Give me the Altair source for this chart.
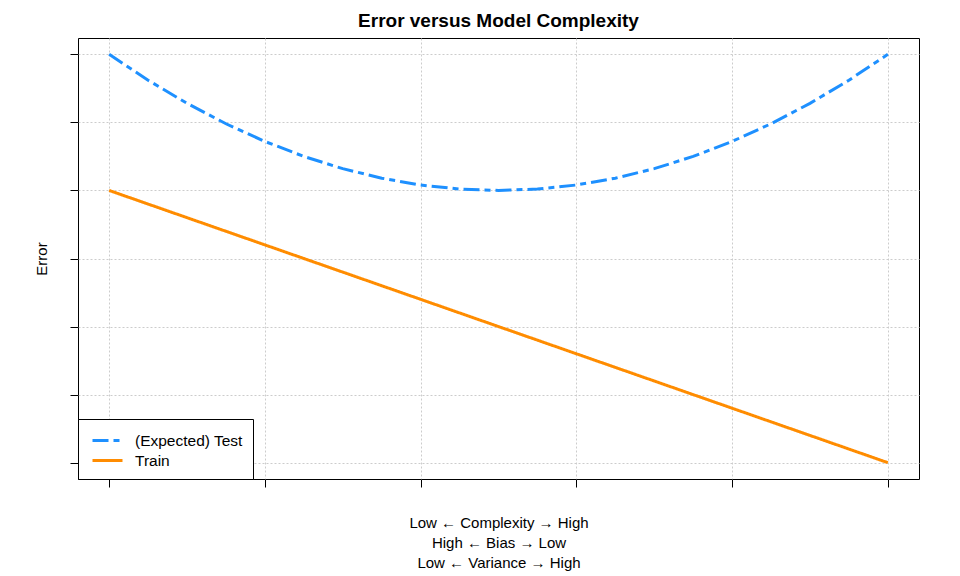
import altair as alt
import pandas as pd

complexity = [0, 0.25, 0.5, 0.75, 1, 1.25, 1.5, 1.75, 2, 2.25, 2.5,
              2.75, 3, 3.25, 3.5, 3.75, 4, 4.25, 4.5, 4.75, 5]
test_error = [6.0, 5.62, 5.28, 4.98, 4.72, 4.5, 4.32, 4.18, 4.08, 4.02, 4.0,
              4.02, 4.08, 4.18, 4.32, 4.5, 4.72, 4.98, 5.28, 5.62, 6.0]
train_error = [4.0, 3.8, 3.6, 3.4, 3.2, 3.0, 2.8, 2.6, 2.4, 2.2, 2.0,
               1.8, 1.6, 1.4, 1.2, 1.0, 0.8, 0.6, 0.4, 0.2, 0.0]
series_names = ["(Expected) Test", "Train"]
series_colors = ["#1E90FF", "#FF8C00"]
x_ticks = [0, 1, 2, 3, 4, 5]
y_ticks = [0, 1, 2, 3, 4, 5, 6]

rows = []
for xv, t in zip(complexity, test_error):
    rows.append({"x": xv, "y": t, "series": series_names[0]})
for xv, t in zip(complexity, train_error):
    rows.append({"x": xv, "y": t, "series": series_names[1]})
df = pd.DataFrame(rows)

FONT = "Liberation Sans"

chart = alt.Chart(df).mark_line(strokeWidth=3).encode(
    x=alt.X("x:Q",
            scale=alt.Scale(domain=[-0.2, 5.2], nice=False, zero=False),
            axis=alt.Axis(values=x_ticks, labels=False, domain=False,
                          tickSize=8, tickColor="black",
                          grid=True, gridColor="#CCCCCC", gridDash=[2, 2],
                          title=["Low \u2190 Complexity \u2192 High",
                                 "High \u2190 Bias \u2192 Low",
                                 "Low \u2190 Variance \u2192 High"],
                          titleFont=FONT, titleFontSize=15, titleFontWeight="normal",
                          titleColor="black", titleLineHeight=20, titlePadding=28)),
    y=alt.Y("y:Q",
            scale=alt.Scale(domain=[-0.24, 6.24], nice=False, zero=False),
            axis=alt.Axis(values=y_ticks, labels=False, domain=False,
                          tickSize=8, tickColor="black",
                          grid=True, gridColor="#CCCCCC", gridDash=[2, 2],
                          title="Error", titleFont=FONT, titleFontSize=15,
                          titleFontWeight="normal", titleColor="black",
                          titlePadding=20)),
    color=alt.Color("series:N",
                    scale=alt.Scale(domain=series_names, range=series_colors),
                    legend=alt.Legend(title=None, orient="bottom-left", offset=0,
                                      strokeColor="black", fillColor="white",
                                      padding=10, rowPadding=0,
                                      symbolType="M-1.5,0H1.5", symbolSize=400,
                                      symbolStrokeWidth=3, symbolOffset=8,
                                      labelFont=FONT,
                                      labelFontSize=15.5, labelColor="black",
                                      labelOffset=16, cornerRadius=0)),
    strokeDash=alt.StrokeDash("series:N",
                              scale=alt.Scale(domain=series_names,
                                              range=[[16, 5, 6, 5], [1, 0]]),
                              legend=alt.Legend(title=None, orient="bottom-left")),
).properties(
    width=841, height=441,
    padding={"left": 70, "top": 30, "right": 33, "bottom": 97},
    autosize=alt.AutoSizeParams(type="none"),
    background="white",
    title=alt.TitleParams("Error versus Model Complexity", font=FONT,
                          fontSize=19, fontWeight="bold", color="black",
                          offset=7, anchor="middle"),
).configure_view(
    stroke="black", strokeWidth=1
)

chart.save("out.html", embed_options={"renderer": "svg", "actions": False})
